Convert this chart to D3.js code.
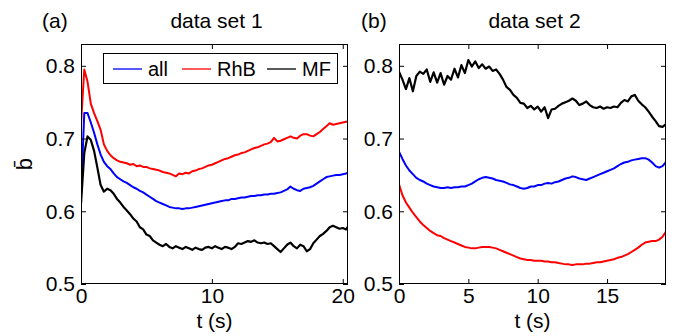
<!DOCTYPE html>
<html><head><meta charset="utf-8">
<script src="https://cdn.jsdelivr.net/npm/d3@7"></script>
<style>
html,body{margin:0;padding:0;background:#fff;}
svg text{font-family:"Liberation Sans",Arial,Helvetica,sans-serif;fill:#000;}
</style></head>
<body><svg id="c" width="677" height="336"></svg>
<script>
// ---------- DATA ----------
const titles = ["data set 1", "data set 2"];
const panelLabels = ["(a)", "(b)"];
const seriesNames = ["all", "RhB", "MF"];
const seriesColors = ["#0000ff", "#ff0000", "#000000"];
const yTicks = [0.5, 0.6, 0.7, 0.8];
const xTicksA = [0, 10, 20];
const xTicksB = [0, 5, 10, 15];

// panel (a) time samples (s)
const tA = [0,0.25,0.5,0.75,1,1.25,1.5,1.75,2,2.25,2.5,2.75,3,3.25,3.5,3.75,4,4.25,4.5,4.75,5,5.25,5.5,5.75,6,6.25,6.5,6.75,7,7.25,7.5,7.75,8,8.25,8.5,8.75,9,9.25,9.5,9.75,10,10.25,10.5,10.75,11,11.25,11.5,11.75,12,12.25,12.5,12.75,13,13.25,13.5,13.75,14,14.25,14.5,14.75,15,15.25,15.5,15.75,16,16.25,16.5,16.75,17,17.25,17.5,17.75,18,18.25,18.5,18.75,19,19.25,19.5,19.75,20,20.25,20.4];
const allA = [0.622,0.735,0.735,0.722,0.708,0.692,0.678,0.668,0.662,0.658,0.652,0.647,0.644,0.641,0.639,0.636,0.633,0.631,0.628,0.626,0.623,0.620,0.617,0.614,0.612,0.610,0.608,0.606,0.605,0.604,0.604,0.603,0.604,0.604,0.605,0.606,0.607,0.608,0.609,0.610,0.611,0.612,0.613,0.614,0.615,0.615,0.617,0.617,0.618,0.619,0.619,0.620,0.621,0.621,0.622,0.622,0.623,0.623,0.624,0.624,0.625,0.626,0.628,0.630,0.634,0.631,0.629,0.628,0.631,0.632,0.633,0.635,0.638,0.641,0.644,0.647,0.648,0.649,0.650,0.650,0.651,0.652,0.653];
const rhbA = [0.720,0.795,0.778,0.748,0.735,0.724,0.712,0.692,0.683,0.677,0.673,0.670,0.668,0.667,0.666,0.664,0.665,0.662,0.663,0.661,0.661,0.659,0.658,0.657,0.656,0.654,0.653,0.652,0.650,0.648,0.652,0.651,0.653,0.652,0.655,0.656,0.658,0.659,0.661,0.663,0.664,0.666,0.668,0.670,0.672,0.673,0.675,0.677,0.678,0.680,0.681,0.683,0.685,0.687,0.688,0.690,0.692,0.693,0.695,0.701,0.696,0.697,0.699,0.701,0.703,0.701,0.700,0.704,0.706,0.706,0.704,0.703,0.706,0.709,0.713,0.717,0.721,0.719,0.720,0.721,0.722,0.723,0.723];
const mfA = [0.610,0.680,0.703,0.698,0.683,0.660,0.636,0.627,0.631,0.629,0.624,0.617,0.612,0.606,0.601,0.596,0.590,0.586,0.578,0.575,0.568,0.566,0.560,0.557,0.554,0.552,0.555,0.551,0.549,0.552,0.550,0.548,0.551,0.549,0.547,0.550,0.548,0.547,0.550,0.551,0.549,0.552,0.550,0.548,0.551,0.550,0.548,0.551,0.556,0.555,0.557,0.559,0.558,0.560,0.557,0.556,0.557,0.555,0.556,0.552,0.548,0.544,0.549,0.554,0.557,0.552,0.549,0.554,0.552,0.545,0.548,0.556,0.561,0.566,0.569,0.573,0.578,0.580,0.578,0.576,0.577,0.575,0.579];

// panel (b) time samples (s)
const tB = [0,0.25,0.5,0.75,1,1.25,1.5,1.75,2,2.25,2.5,2.75,3,3.25,3.5,3.75,4,4.25,4.5,4.75,5,5.25,5.5,5.75,6,6.25,6.5,6.75,7,7.25,7.5,7.75,8,8.25,8.5,8.75,9,9.25,9.5,9.75,10,10.25,10.5,10.75,11,11.25,11.5,11.75,12,12.25,12.5,12.75,13,13.25,13.5,13.75,14,14.25,14.5,14.75,15,15.25,15.5,15.75,16,16.25,16.5,16.75,17,17.25,17.5,17.75,18,18.25,18.5,18.75,19,19.25];
const allB = [0.682,0.672,0.663,0.656,0.651,0.646,0.643,0.641,0.638,0.636,0.634,0.633,0.632,0.632,0.633,0.632,0.633,0.633,0.634,0.634,0.636,0.638,0.641,0.644,0.646,0.647,0.646,0.645,0.643,0.642,0.641,0.639,0.637,0.636,0.634,0.632,0.631,0.632,0.634,0.634,0.636,0.636,0.638,0.639,0.638,0.640,0.641,0.643,0.645,0.646,0.648,0.647,0.645,0.644,0.643,0.645,0.647,0.649,0.651,0.653,0.655,0.657,0.659,0.662,0.665,0.667,0.668,0.670,0.671,0.672,0.673,0.673,0.671,0.667,0.662,0.660,0.662,0.668];
const rhbB = [0.637,0.622,0.612,0.605,0.598,0.592,0.586,0.581,0.577,0.573,0.570,0.567,0.566,0.563,0.561,0.559,0.557,0.555,0.553,0.551,0.550,0.549,0.549,0.550,0.551,0.551,0.551,0.550,0.549,0.547,0.545,0.543,0.541,0.539,0.537,0.535,0.534,0.533,0.533,0.532,0.532,0.532,0.531,0.531,0.530,0.530,0.529,0.528,0.527,0.527,0.526,0.527,0.527,0.527,0.528,0.528,0.529,0.530,0.530,0.531,0.532,0.533,0.534,0.536,0.537,0.539,0.541,0.544,0.547,0.550,0.554,0.557,0.558,0.559,0.559,0.561,0.565,0.572];
const mfB = [0.792,0.781,0.768,0.783,0.765,0.786,0.792,0.789,0.795,0.778,0.791,0.777,0.790,0.774,0.786,0.781,0.796,0.784,0.801,0.790,0.808,0.799,0.806,0.797,0.802,0.796,0.799,0.793,0.795,0.789,0.781,0.771,0.767,0.760,0.756,0.749,0.748,0.742,0.745,0.740,0.744,0.737,0.743,0.728,0.740,0.741,0.745,0.748,0.750,0.752,0.755,0.752,0.746,0.748,0.751,0.746,0.743,0.742,0.744,0.741,0.743,0.742,0.744,0.743,0.749,0.753,0.751,0.758,0.760,0.752,0.747,0.743,0.737,0.730,0.724,0.717,0.716,0.720];

// ---------- DRAW ----------
const svg = d3.select("#c");
const FS = 21;
const yDomain = [0.5, 0.83];
const panels = [
  {t: tA, series: [allA, rhbA, mfA], xDomain: [0, 20.4], xTicks: xTicksA, x0: 81, x1: 348},
  {t: tB, series: [allB, rhbB, mfB], xDomain: [0, 19.25], xTicks: xTicksB, x0: 399, x1: 666}
];
const plotTop = 44, plotBottom = 284;

panels.forEach((p, i) => {
  const x = d3.scaleLinear().domain(p.xDomain).range([p.x0, p.x1]);
  const y = d3.scaleLinear().domain(yDomain).range([plotBottom, plotTop]);
  const g = svg.append("g");

  const clipId = "clip" + i;
  svg.append("clipPath").attr("id", clipId).append("rect")
    .attr("x", p.x0).attr("y", plotTop).attr("width", p.x1 - p.x0).attr("height", plotBottom - plotTop);

  const line = d3.line().x((d, k) => x(p.t[k])).y(d => y(d));
  const lines = g.append("g").attr("clip-path", `url(#${clipId})`);
  [0, 1, 2].forEach(s => {
    lines.append("path").datum(p.series[s])
      .attr("d", line).attr("fill", "none")
      .attr("stroke", seriesColors[s]).attr("stroke-width", s === 2 ? 2.2 : 2)
      .attr("stroke-linejoin", "round");
  });

  const axB = d3.axisBottom(x).tickValues(p.xTicks).tickSizeInner(-5).tickSizeOuter(0).tickPadding(4).tickFormat(d3.format("d"));
  const axT = d3.axisTop(x).tickValues(p.xTicks).tickSizeInner(-5).tickSizeOuter(0).tickFormat("");
  const axL = d3.axisLeft(y).tickValues(yTicks).tickSizeInner(-5).tickSizeOuter(0).tickPadding(6).tickFormat(d3.format(".1f"));
  const axR = d3.axisRight(y).tickValues(yTicks).tickSizeInner(-5).tickSizeOuter(0).tickFormat("");

  const gB = g.append("g").attr("transform", `translate(0,${plotBottom})`).call(axB);
  const gT = g.append("g").attr("transform", `translate(0,${plotTop})`).call(axT);
  const gL = g.append("g").attr("transform", `translate(${p.x0},0)`).call(axL);
  const gR = g.append("g").attr("transform", `translate(${p.x1},0)`).call(axR);
  [gB, gT, gL, gR].forEach(a => {
    a.select(".domain").remove();
    a.selectAll("line").attr("stroke", "#000").attr("stroke-width", 1);
    a.selectAll("text").attr("font-size", FS).attr("font-family", "Liberation Sans, Arial, sans-serif").attr("fill", "#000");
  });

  g.append("rect").attr("x", p.x0 + 0.5).attr("y", plotTop + 0.5)
    .attr("width", p.x1 - p.x0 - 1).attr("height", plotBottom - plotTop - 1)
    .attr("fill", "none").attr("stroke", "#000").attr("stroke-width", 1);

  g.append("text").attr("x", (p.x0 + p.x1) / 2 + 2).attr("y", 28)
    .attr("text-anchor", "middle").attr("font-size", FS).text(titles[i]);
  g.append("text").attr("x", i === 0 ? 42 : 361).attr("y", 28)
    .attr("font-size", FS).text(panelLabels[i]);
  g.append("text").attr("x", (p.x0 + p.x1) / 2).attr("y", 328)
    .attr("text-anchor", "middle").attr("font-size", FS).text("t (s)");
});

svg.append("text").attr("transform", "translate(32,164) rotate(-90)")
  .attr("text-anchor", "middle").attr("font-size", 22).text("b\u0304");

const leg = svg.append("g");
leg.append("rect").attr("x", 103.5).attr("y", 53.5).attr("width", 234).attr("height", 30)
  .attr("fill", "#fff").attr("stroke", "#000").attr("stroke-width", 1);
const legX = [113, 182, 267];
seriesNames.forEach((n, s) => {
  leg.append("line").attr("x1", legX[s]).attr("x2", legX[s] + 29).attr("y1", 69).attr("y2", 69)
    .attr("stroke", seriesColors[s]).attr("stroke-width", 1.3);
  leg.append("text").attr("x", legX[s] + 35).attr("y", 76).attr("font-size", 20).text(n);
});
</script></body></html>
